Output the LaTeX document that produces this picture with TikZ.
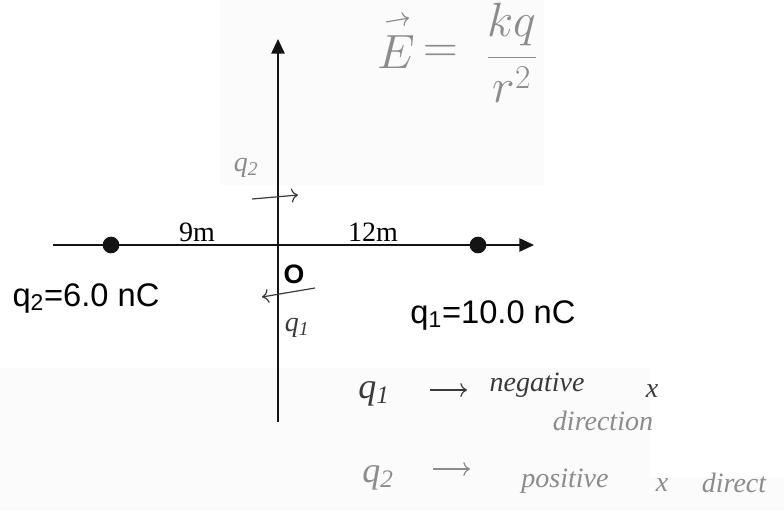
\documentclass[tikz,border=0pt]{standalone}
\usepackage{fontspec}
\setmainfont{Liberation Serif}
\setsansfont{Liberation Sans}
\usetikzlibrary{arrows.meta}
\definecolor{paper}{HTML}{FBFBFB}
\definecolor{pencil}{HTML}{8C8C8C}
\definecolor{ink}{HTML}{141414}
\definecolor{pen}{HTML}{3A3A3A}

\begin{document}
\begin{tikzpicture}[x=0.75pt,y=-0.75pt,
    axis/.style={line width=1.3pt,ink,-{Triangle[length=11pt,width=10pt]}},
    charge/.style={circle,fill=ink,inner sep=0pt,minimum size=12.5pt},
    charge label/.style={font=\sffamily\fontsize{24.5}{28}\selectfont},
    dist label/.style={font=\rmfamily\fontsize{21}{24}\selectfont},
    scribble/.style={pencil,font=\itshape\fontsize{21}{24}\selectfont,inner sep=1pt},
    big scribble/.style={scribble,font=\itshape\fontsize{27}{30}\selectfont},
    formula/.style={pencil,font=\fontsize{24}{28}\selectfont,inner sep=1pt,scale=1.45,transform shape},
    scribble arrow/.style={pencil,line width=0.9pt,-{To[length=5pt]}}]
        \useasboundingbox (0,0) rectangle (784,511);
        % scanned paper patches
        \fill[paper] (220,0) rectangle (544,185);
        \fill[paper] (0,368) rectangle (650,511);
        \fill[paper] (650,477) rectangle (784,511);
        % axes
        \coordinate (O) at (278,245);
        \coordinate (xl) at (53,245);
        \coordinate (xr) at (534,245);
        \coordinate (yb) at (278,422);
        \coordinate (yt) at (278,39);
        \draw[axis] (xl) -- (xr);
        \draw[axis] (yb) -- (yt);
        % charges
        \node[charge] (q2) at (111,245) {};
        \node[charge] (q1) at (478,245) {};
        \node[dist label] (d9) at (197,232) {9m};
        \node[dist label] (d12) at (373,232) {12m};
        \node[font=\sffamily\bfseries\fontsize{20}{24}\selectfont] (orig) at (294,274) {O};
        \node[charge label] (q2lab) at (86,298) {q\textsubscript{2}=6.0 nC};
        \node[charge label] (q1lab) at (493,315) {q\textsubscript{1}=10.0 nC};
        % handwritten field formula
        \node[formula] (Efld) at (396,52) {$E$};
        \coordinate (Ea) at (386,22);
        \coordinate (Eb) at (409,18);
        \draw[scribble arrow] (Ea) -- (Eb);
        \node[formula] (eqs) at (441,54) {$=$};
        \node[formula] (frac) at (512,53) {$\displaystyle\frac{kq}{r^{2}}$};
        % handwritten field arrows at O
        \node[scribble] (hq2) at (246,168) {q\textsubscript{2}};
        \coordinate (hq2a) at (252,199);
        \coordinate (hq2b) at (298,195);
        \draw[scribble arrow,pen] (hq2a) -- (hq2b);
        \coordinate (hq1a) at (315,288);
        \coordinate (hq1b) at (262,297);
        \draw[scribble arrow,pen] (hq1a) -- (hq1b);
        \node[scribble,pen] (hq1) at (297,328) {q\textsubscript{1}};
        % notes
        \node[big scribble,pen] (n1) at (374,394) {q\textsubscript{1}};
        \coordinate (n1a) at (430,390);
        \coordinate (n1b) at (467,390);
        \draw[scribble arrow,pen] (n1a) -- (n1b);
        \node[scribble,pen] (neg) at (537,385) {negative};
        \node[scribble,pen] (negx) at (652,391) {x};
        \node[scribble] (dir) at (603,421) {direction};
        \node[big scribble] (n2) at (378,478) {q\textsubscript{2}};
        \coordinate (n2a) at (433,469);
        \coordinate (n2b) at (470,469);
        \draw[scribble arrow] (n2a) -- (n2b);
        \node[scribble] (pos) at (565,481) {positive};
        \node[scribble] (posx) at (662,485) {x};
        \node[scribble] (posd) at (734,483) {direct};
\end{tikzpicture}
\end{document}
